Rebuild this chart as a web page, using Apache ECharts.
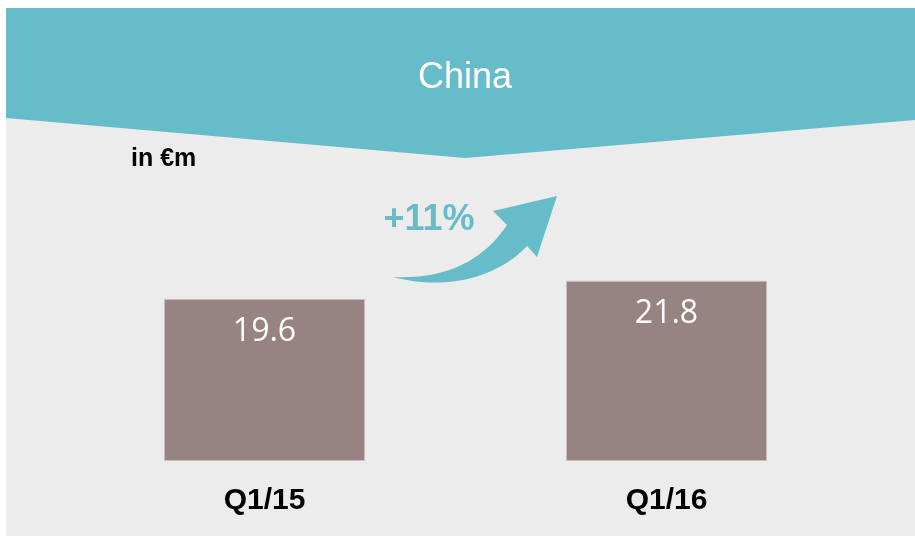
<!DOCTYPE html>
<html>
<head>
<meta charset="utf-8">
<script src="https://cdn.jsdelivr.net/npm/echarts@6/dist/echarts.min.js"></script>
<style>html,body{margin:0;padding:0;background:#fff;}#c{width:915px;height:536px;}</style>
</head>
<body>
<div id="c"></div>
<script>
const categories = ['Q1/15', 'Q1/16'];
const values = [19.6, 21.8];
const titleText = 'China';
const unitText = 'in €m';
const growthText = '+11%';

const teal = '#66bcc9';

function cubic(p0, p1, p2, p3, n) {
  const pts = [];
  for (let i = 0; i <= n; i++) {
    const t = i / n, u = 1 - t;
    pts.push([
      u*u*u*p0[0] + 3*u*u*t*p1[0] + 3*u*t*t*p2[0] + t*t*t*p3[0],
      u*u*u*p0[1] + 3*u*u*t*p1[1] + 3*u*t*t*p2[1] + t*t*t*p3[1]
    ]);
  }
  return pts;
}
const arrowPts = [].concat(
  cubic([393, 277], [435, 279], [478, 268], [507, 225], 24),
  [[493, 211], [557, 196], [537, 257]],
  cubic([527, 246], [500, 275], [450, 292], [393, 277], 24)
);

const chart = echarts.init(document.getElementById('c'), null, {renderer: 'canvas'});
chart.setOption({
  backgroundColor: '#ffffff',
  animation: false,
  title: {
    text: titleText,
    left: 465, top: 60, textAlign: 'center', padding: 0,
    textStyle: {color: '#ffffff', fontFamily: 'Liberation Sans', fontWeight: 'normal', fontSize: 36}
  },
  grid: {left: 63.5, right: 47.5, top: 213, bottom: 75},
  xAxis: {
    type: 'category', data: categories,
    axisLine: {show: false}, axisTick: {show: false},
    axisLabel: {color: '#000', fontFamily: 'Liberation Sans', fontWeight: 'bold', fontSize: 30, margin: 25}
  },
  yAxis: {type: 'value', min: 0, max: 30, show: false, splitLine: {show: false}},
  graphic: [
    {type: 'rect', z: -10, silent: true, shape: {x: 6, y: 8, width: 909, height: 528}, style: {fill: '#ececec'}},
    {type: 'polygon', z: -5, silent: true, shape: {points: [[6, 8], [915, 8], [915, 120], [465, 158], [6, 118]]}, style: {fill: teal}},
    {type: 'text', x: 131, y: 147, z: 5, style: {text: unitText, fill: '#000', font: 'bold 25px "Liberation Sans"', verticalAlign: 'top'}},
    {type: 'text', x: 429, y: 220, z: 5, style: {text: growthText, fill: teal, font: 'bold 36px "Liberation Sans"', align: 'center', verticalAlign: 'middle'}},
    {type: 'polygon', z: 5, silent: true, shape: {points: arrowPts}, style: {fill: teal}}
  ],
  series: [{
    type: 'bar', data: values, barWidth: 201,
    itemStyle: {color: '#978382', borderColor: '#c9bcbc', borderWidth: 1},
    label: {show: true, position: 'insideTop', distance: 17, color: '#ffffff', fontFamily: 'Open Sans', fontSize: 32}
  }]
});
</script>
</body>
</html>
